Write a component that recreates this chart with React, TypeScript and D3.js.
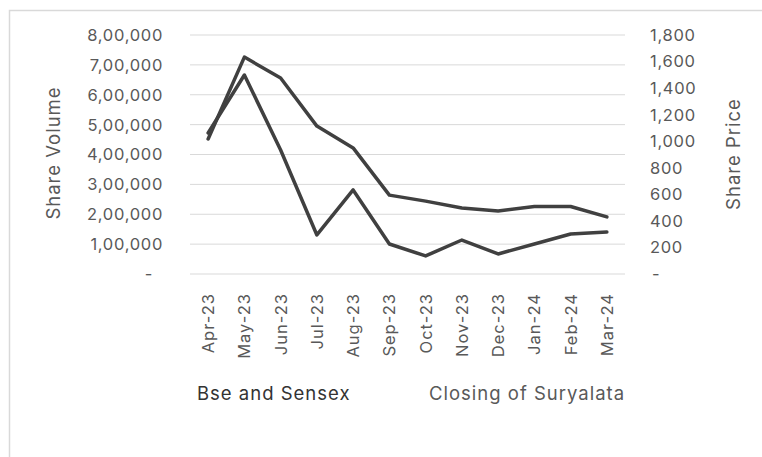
import * as d3 from "d3";

const months = ["Apr-23", "May-23", "Jun-23", "Jul-23", "Aug-23", "Sep-23", "Oct-23", "Nov-23", "Dec-23", "Jan-24", "Feb-24", "Mar-24"];
// left axis (Share Volume)
const bseSensex = [452000, 726000, 656000, 495000, 422000, 264000, 244000, 221000, 211000, 226000, 226000, 191000];
// right axis (Share Price)
const closingSuryalata = [1062, 1499, 934, 294, 633, 226, 136, 256, 151, 226, 301, 316];
const leftTicks = [0, 100000, 200000, 300000, 400000, 500000, 600000, 700000, 800000];
const rightTicks = [0, 200, 400, 600, 800, 1000, 1200, 1400, 1600, 1800];

const W = 762;
const H = 457;
const FONT = "Inter, 'Noto Sans', sans-serif";
const TXT = "#595959";
const TICK = { fontSize: 16.5, letterSpacing: 0.7 };
const BIG = { fontSize: 18.5, letterSpacing: 1 };

const fmtIndian = (v: number) => {
  if (v === 0) return "-";
  const s = String(Math.round(v));
  const last3 = s.slice(-3);
  const rest = s.slice(0, -3);
  return (rest ? rest.replace(/\B(?=(\d{2})+(?!\d))/g, ",") + "," : "") + last3;
};
const fmtPrice = (v: number) => (v === 0 ? "-" : d3.format(",")(v));

export default function App() {
  const x = d3.scaleBand<string>().domain(months).range([190, 625]);
  const yL = d3.scaleLinear().domain([0, 800000]).range([274, 35]);
  const yR = d3.scaleLinear().domain([0, 1800]).range([274, 35]);
  const cx = (m: string) => (x(m) ?? 0) + x.bandwidth() / 2;

  const lineL = d3.line<number>().x((_, i) => cx(months[i])).y((d) => yL(d));
  const lineR = d3.line<number>().x((_, i) => cx(months[i])).y((d) => yR(d));

  return (
    <svg
      width={W}
      height={H}
      style={{ position: "absolute", left: 0, top: 0, background: "#fff" }}
      fontFamily={FONT}
    >
      <rect x={9.5} y={10.5} width={820} height={520} fill="#fff" stroke="#d9d9d9" strokeWidth={1.5} />

      {leftTicks.map((t) => (
        <line key={t} x1={190} x2={625} y1={yL(t)} y2={yL(t)} stroke="#d9d9d9" strokeWidth={1} />
      ))}

      {leftTicks.map((t) => (
        <text
          key={t}
          x={t === 0 ? 153 : 163}
          y={yL(t)}
          dy="0.36em"
          textAnchor="end"
          {...TICK}
          fill={TXT}
        >
          {fmtIndian(t)}
        </text>
      ))}

      {rightTicks.map((t) => (
        <text key={t} x={t === 0 ? 652 : 650} y={yR(t)} dy="0.36em" textAnchor="start" {...TICK} fill={TXT}>
          {fmtPrice(t)}
        </text>
      ))}

      {months.map((m) => (
        <text
          key={m}
          transform={`translate(${cx(m) + 6},293) rotate(-90)`}
          textAnchor="end"
          {...TICK}
          letterSpacing={1}
          fill={TXT}
        >
          {m}
        </text>
      ))}

      <text transform="translate(60,153) rotate(-90)" textAnchor="middle" {...BIG} fill={TXT}>
        Share Volume
      </text>
      <text transform="translate(740,154) rotate(-90)" textAnchor="middle" {...BIG} fill={TXT}>
        Share Price
      </text>

      <path d={lineL(bseSensex) ?? ""} fill="none" stroke="#404040" strokeWidth={3.5} strokeLinejoin="round" strokeLinecap="round" />
      <path d={lineR(closingSuryalata) ?? ""} fill="none" stroke="#404040" strokeWidth={3.5} strokeLinejoin="round" strokeLinecap="round" />

      <text x={197} y={400} {...BIG} fill="#333">
        Bse and Sensex
      </text>
      <text x={429} y={400} {...BIG} fill={TXT}>
        Closing of Suryalata
      </text>
    </svg>
  );
}
